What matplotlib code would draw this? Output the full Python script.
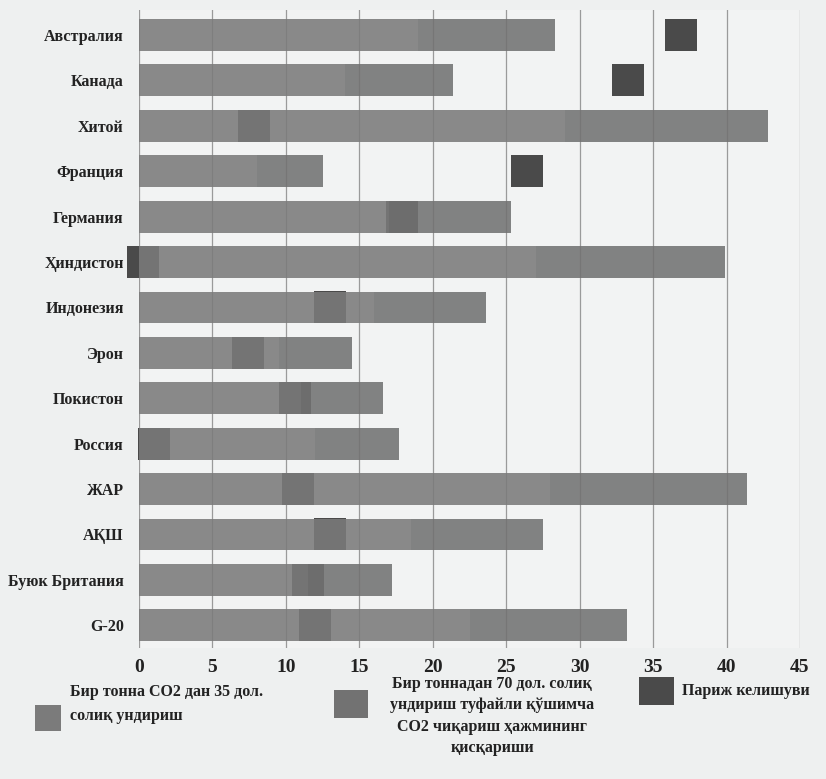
import matplotlib
matplotlib.use("Agg")
import matplotlib.pyplot as plt
from matplotlib.patches import Rectangle
import numpy as np

# ---- data ----
countries = ["Австралия", "Канада", "Хитой", "Франция", "Германия", "Ҳиндистон",
             "Индонезия", "Эрон", "Покистон", "Россия", "ЖАР", "АҚШ",
             "Буюк Британия", "G-20"]
tax35 = [19.0, 14.0, 29.0, 8.0, 17.0, 27.0, 16.0, 9.5, 11.0, 12.0, 28.0, 18.5, 11.5, 22.5]
extra70 = [9.3, 7.4, 13.8, 4.5, 8.3, 12.9, 7.6, 5.0, 5.6, 5.7, 13.4, 9.0, 5.7, 10.7]
paris = [36.9, 33.3, 7.8, 26.4, 17.9, 0.3, 13.0, 7.4, 10.6, 1.0, 10.8, 13.0, 11.5, 12.0]
xticks = [0, 5, 10, 15, 20, 25, 30, 35, 40, 45]
legend_labels = ["Бир тонна CO2 дан 35 дол.\nсолиқ ундириш",
                 "Бир тоннадан 70 дол. солиқ\nундириш туфайли қўшимча\nCO2 чиқариш ҳажмининг\nқисқариши",
                 "Париж келишуви"]

c1, c2, c3 = "#7b7b7b", "#727272", "#4a4a4a"
bg = "#eef0f0"
FONT = ["Liberation Serif", "DejaVu Serif"]

W, H = 826, 779
fig = plt.figure(figsize=(W / 100, H / 100), dpi=100, facecolor=bg)

def fx(x):
    return x / W

def fy(y):
    return 1 - y / H

ax_l, ax_r, ax_t, ax_b = 139, 800, 10, 648
ax = fig.add_axes([fx(ax_l), fy(ax_b), fx(ax_r - ax_l), (ax_b - ax_t) / H])
ax.set_facecolor("#f2f3f3")

y = np.arange(len(countries))
ax.barh(y, tax35, height=0.7, color=c1, alpha=0.88, zorder=3, linewidth=0)
ax.barh(y, extra70, left=tax35, height=0.7, color=c2, alpha=0.88, zorder=3, linewidth=0)
ax.plot(paris, y, "s", ms=23, color=c3, mew=0, zorder=2, clip_on=False, linestyle="none")

ax.set_xlim(0, 45)
ax.set_ylim(len(countries) - 0.5, -0.55)
ax.set_xticks(xticks)
ax.set_xticklabels([str(t) for t in xticks], fontfamily=FONT, fontweight="bold", fontsize=14)
ax.set_yticks(y)
ax.set_yticklabels(countries, fontfamily=FONT, fontweight="bold", fontsize=11.5)
ax.tick_params(axis="both", length=0, colors="#222222")
ax.tick_params(axis="x", pad=8)
ax.tick_params(axis="y", pad=11)
for s in ax.spines.values():
    s.set_visible(False)
for t in xticks:
    ax.axvline(t, color="#9a9a9a", lw=0.9, zorder=1)

# ---- legend ----
def swatch(x0, y0, x1, y1, color):
    fig.add_artist(Rectangle((fx(x0), fy(y1)), fx(x1 - x0), (y1 - y0) / H,
                             transform=fig.transFigure, color=color, linewidth=0))

swatch(35, 705, 61, 731, c1)
fig.text(fx(70), fy(704), legend_labels[0], ha="left", va="center",
         fontfamily=FONT, fontweight="bold", fontsize=11.5, color="#222222",
         linespacing=1.6)
swatch(334, 690, 368, 718, c2)
fig.text(fx(492), fy(716), legend_labels[1], ha="center", va="center",
         fontfamily=FONT, fontweight="bold", fontsize=11.5, color="#222222",
         linespacing=1.45)
swatch(639, 677, 674, 705, c3)
fig.text(fx(682), fy(691), legend_labels[2], ha="left", va="center",
         fontfamily=FONT, fontweight="bold", fontsize=11.5, color="#222222")

fig.savefig("out.png", dpi=100, facecolor=bg)
